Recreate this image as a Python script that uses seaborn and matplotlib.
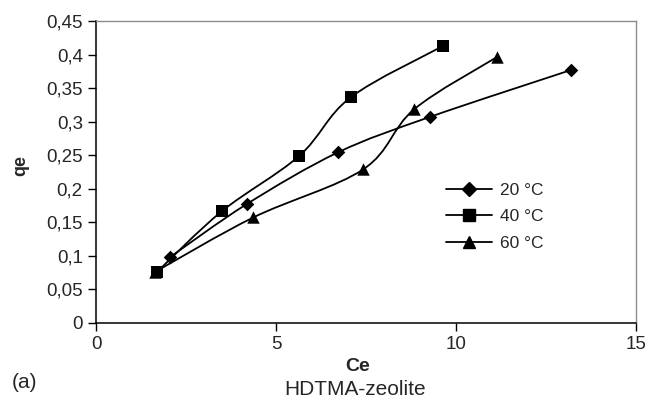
import numpy as np
import pandas as pd
import matplotlib.pyplot as plt
import seaborn as sns
from matplotlib.path import Path
from matplotlib.patches import PathPatch
from matplotlib.lines import Line2D

ce_20 = [2.06, 4.19, 6.72, 9.28, 13.2]
qe_20 = [0.098, 0.177, 0.254, 0.307, 0.377]
ce_40 = [1.70, 3.49, 5.65, 7.07, 9.65]
qe_40 = [0.076, 0.166, 0.249, 0.336, 0.413]
ce_60 = [1.65, 4.37, 7.43, 8.83, 11.13]
qe_60 = [0.076, 0.157, 0.229, 0.318, 0.396]
temps = ["20 °C", "40 °C", "60 °C"]

xticks = [0, 5, 10, 15]
yticks = [0, 0.05, 0.1, 0.15, 0.2, 0.25, 0.3, 0.35, 0.4, 0.45]
ytick_labels = ["0", "0,05", "0,1", "0,15", "0,2", "0,25", "0,3", "0,35", "0,4", "0,45"]

df = pd.concat([
    pd.DataFrame({"Ce": ce_20, "qe": qe_20, "T": temps[0]}),
    pd.DataFrame({"Ce": ce_40, "qe": qe_40, "T": temps[1]}),
    pd.DataFrame({"Ce": ce_60, "qe": qe_60, "T": temps[2]}),
])

sns.set_style("ticks")
plt.rcParams["font.family"] = ["Liberation Sans", "DejaVu Sans"]

fig = plt.figure(figsize=(6.45, 3.99), dpi=100)
ax = fig.add_axes([96 / 645, 1 - 322.7 / 399, 540 / 645, 301.7 / 399])


def smooth_path(x, y):
    # excel-style smoothed line (Catmull-Rom as cubic bezier)
    p = np.column_stack([x, y])
    n = len(p)
    verts = [p[0]]
    codes = [Path.MOVETO]
    for i in range(n - 1):
        p0 = p[i - 1] if i > 0 else p[i]
        p3 = p[i + 2] if i + 2 < n else p[i + 1]
        c1 = p[i] + (p[i + 1] - p0) / 6
        c2 = p[i + 1] - (p3 - p[i]) / 6
        verts += [c1, c2, p[i + 1]]
        codes += [Path.CURVE4] * 3
    return Path(verts, codes)


marker_map = {temps[0]: "D", temps[1]: "s", temps[2]: "^"}
size_map = {temps[0]: 48, temps[1]: 70, temps[2]: 80}

for t in temps:
    sub = df[df["T"] == t]
    ax.add_patch(PathPatch(smooth_path(sub["Ce"], sub["qe"]), facecolor="none",
                           edgecolor="black", lw=1.3, zorder=2))
    sns.scatterplot(data=sub, x="Ce", y="qe", marker=marker_map[t], s=size_map[t],
                    color="black", edgecolor="black", linewidth=0, ax=ax, zorder=3,
                    legend=False)

ax.set_xlim(0, 15)
ax.set_ylim(0, 0.45)
ax.set_xticks(xticks)
ax.set_xticklabels([str(v) for v in xticks])
ax.set_yticks(yticks)
ax.set_yticklabels(ytick_labels)
ax.tick_params(labelsize=13.5, length=5.5, width=1.0, color="black", pad=4)
ax.set_xlabel("")
ax.set_ylabel("")

for s in ["left", "bottom"]:
    ax.spines[s].set_color("black")
    ax.spines[s].set_linewidth(1.1)
for s in ["top", "right"]:
    ax.spines[s].set_visible(True)
    ax.spines[s].set_color("#8c8c8c")
    ax.spines[s].set_linewidth(1.0)

handles = [
    Line2D([], [], color="black", lw=1.3, marker="D", markersize=7),
    Line2D([], [], color="black", lw=1.3, marker="s", markersize=8.5),
    Line2D([], [], color="black", lw=1.3, marker="^", markersize=9),
]
ax.legend(handles, temps, loc="center left", bbox_to_anchor=(0.649, 0.351),
          frameon=False, fontsize=12.5, handlelength=2.65, handletextpad=0.45,
          labelspacing=0.65, borderpad=0, borderaxespad=0)

fig.text(21 / 645, 1 - 166 / 399, "qe", rotation=90, ha="center", va="center",
         fontsize=13, fontweight="bold")
fig.text(358 / 645, 1 - 371 / 399, "Ce", ha="center", va="baseline",
         fontsize=14, fontweight="bold")
fig.text(355 / 645, 1 - 395 / 399, "HDTMA-zeolite", ha="center", va="baseline",
         fontsize=15)
fig.text(12 / 645, 1 - 388 / 399, "(a)", ha="left", va="baseline", fontsize=15)

fig.savefig("out.png", dpi=100)
